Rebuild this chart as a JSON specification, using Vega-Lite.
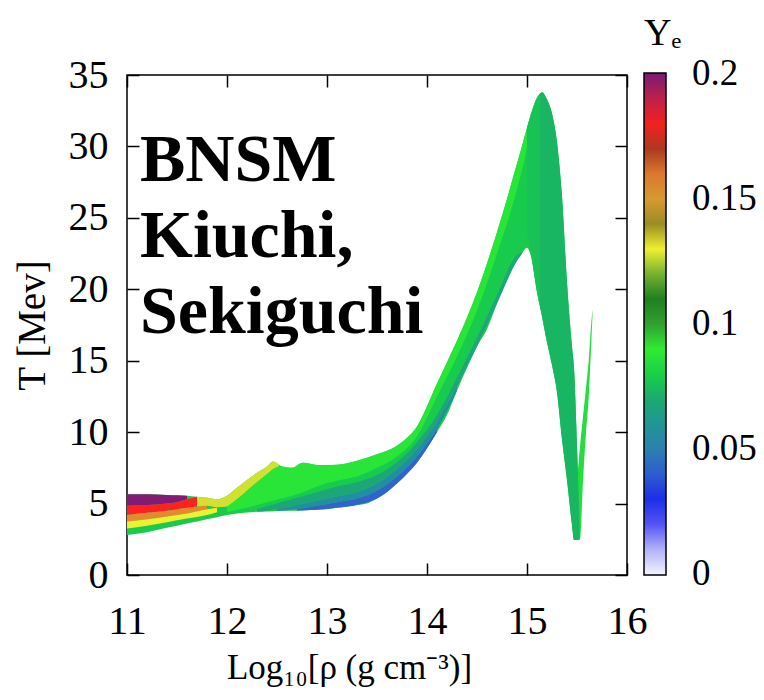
{
  "$schema": "https://vega.github.io/schema/vega-lite/v6.json",
  "autosize": {"type": "none"},
  "padding": {"left": 127, "top": 75, "right": 137, "bottom": 125},
  "width": 500,
  "height": 500,
  "background": "white",
  "config": {
    "font": "Liberation Serif",
    "view": {"stroke": "black", "strokeWidth": 1.5},
    "axis": {"labelColor": "black", "titleColor": "black", "tickColor": "black", "tickWidth": 1.5, "titleFontWeight": "normal", "grid": false, "domain": false, "labelFont": "Liberation Serif", "titleFont": "Liberation Serif"},
    "legend": {"labelFont": "Liberation Serif", "titleFont": "Liberation Serif"}
  },
  "datasets": {
    "base": [
      {"part": "base", "ye": 0.079, "x": 11.0, "hi": 5.65, "lo": 2.8},
      {"part": "base", "ye": 0.079, "x": 11.2, "hi": 5.65, "lo": 3.0},
      {"part": "base", "ye": 0.079, "x": 11.4, "hi": 5.6, "lo": 3.3},
      {"part": "base", "ye": 0.079, "x": 11.6, "hi": 5.55, "lo": 3.6},
      {"part": "base", "ye": 0.079, "x": 11.8, "hi": 5.4, "lo": 3.9},
      {"part": "base", "ye": 0.079, "x": 11.9, "hi": 5.3, "lo": 4.05},
      {"part": "base", "ye": 0.079, "x": 12.0, "hi": 5.55, "lo": 4.2},
      {"part": "base", "ye": 0.079, "x": 12.1, "hi": 6.1, "lo": 4.3},
      {"part": "base", "ye": 0.079, "x": 12.2, "hi": 6.65, "lo": 4.38},
      {"part": "base", "ye": 0.079, "x": 12.3, "hi": 7.15, "lo": 4.42},
      {"part": "base", "ye": 0.079, "x": 12.4, "hi": 7.6, "lo": 4.45},
      {"part": "base", "ye": 0.079, "x": 12.46, "hi": 7.95, "lo": 4.47},
      {"part": "base", "ye": 0.079, "x": 12.55, "hi": 7.6, "lo": 4.5},
      {"part": "base", "ye": 0.079, "x": 12.65, "hi": 7.5, "lo": 4.5},
      {"part": "base", "ye": 0.079, "x": 12.76, "hi": 7.85, "lo": 4.52},
      {"part": "base", "ye": 0.079, "x": 12.9, "hi": 7.7, "lo": 4.56},
      {"part": "base", "ye": 0.079, "x": 13.0, "hi": 7.7, "lo": 4.6},
      {"part": "base", "ye": 0.079, "x": 13.1, "hi": 7.72, "lo": 4.7},
      {"part": "base", "ye": 0.079, "x": 13.2, "hi": 7.8, "lo": 4.8},
      {"part": "base", "ye": 0.079, "x": 13.3, "hi": 8.0, "lo": 4.9},
      {"part": "base", "ye": 0.079, "x": 13.4, "hi": 8.2, "lo": 5.0},
      {"part": "base", "ye": 0.079, "x": 13.5, "hi": 8.45, "lo": 5.35},
      {"part": "base", "ye": 0.079, "x": 13.6, "hi": 8.7, "lo": 5.8},
      {"part": "base", "ye": 0.079, "x": 13.7, "hi": 9.05, "lo": 6.4},
      {"part": "base", "ye": 0.079, "x": 13.8, "hi": 9.6, "lo": 7.1},
      {"part": "base", "ye": 0.079, "x": 13.9, "hi": 10.4, "lo": 7.85},
      {"part": "base", "ye": 0.079, "x": 14.0, "hi": 11.8, "lo": 8.9},
      {"part": "base", "ye": 0.079, "x": 14.1, "hi": 13.4, "lo": 10.0},
      {"part": "base", "ye": 0.079, "x": 14.2, "hi": 14.9, "lo": 11.2},
      {"part": "base", "ye": 0.079, "x": 14.3, "hi": 16.4, "lo": 12.9},
      {"part": "base", "ye": 0.079, "x": 14.4, "hi": 18.0, "lo": 14.5},
      {"part": "base", "ye": 0.079, "x": 14.5, "hi": 19.8, "lo": 16.0},
      {"part": "base", "ye": 0.079, "x": 14.6, "hi": 21.8, "lo": 17.2},
      {"part": "base", "ye": 0.079, "x": 14.7, "hi": 24.0, "lo": 19.0},
      {"part": "base", "ye": 0.079, "x": 14.8, "hi": 26.3, "lo": 20.6},
      {"part": "base", "ye": 0.079, "x": 14.9, "hi": 28.8, "lo": 22.0},
      {"part": "base", "ye": 0.079, "x": 14.95, "hi": 30.0, "lo": 22.5},
      {"part": "base", "ye": 0.079, "x": 15.0, "hi": 31.3, "lo": 22.9},
      {"part": "base", "ye": 0.079, "x": 15.05, "hi": 32.5, "lo": 22.0},
      {"part": "base", "ye": 0.079, "x": 15.1, "hi": 33.4, "lo": 19.8},
      {"part": "base", "ye": 0.079, "x": 15.15, "hi": 33.8, "lo": 18.1},
      {"part": "base", "ye": 0.079, "x": 15.2, "hi": 33.3, "lo": 16.3},
      {"part": "base", "ye": 0.079, "x": 15.25, "hi": 32.3, "lo": 14.7},
      {"part": "base", "ye": 0.079, "x": 15.3, "hi": 30.3, "lo": 12.8},
      {"part": "base", "ye": 0.079, "x": 15.35, "hi": 26.5, "lo": 9.5},
      {"part": "base", "ye": 0.079, "x": 15.4, "hi": 20.5, "lo": 6.65},
      {"part": "base", "ye": 0.079, "x": 15.45, "hi": 16.0, "lo": 3.5},
      {"part": "base", "ye": 0.079, "x": 15.47, "hi": 14.5, "lo": 2.45},
      {"part": "base", "ye": 0.079, "x": 15.5, "hi": 9.0, "lo": 2.45},
      {"part": "base", "ye": 0.079, "x": 15.53, "hi": 2.6, "lo": 2.5},
      {"part": "spike", "ye": 0.084, "x": 15.51, "hi": 7.4, "lo": 2.5},
      {"part": "spike", "ye": 0.084, "x": 15.53, "hi": 9.0, "lo": 2.5},
      {"part": "spike", "ye": 0.084, "x": 15.56, "hi": 11.1, "lo": 6.6},
      {"part": "spike", "ye": 0.084, "x": 15.59, "hi": 13.1, "lo": 10.0},
      {"part": "spike", "ye": 0.084, "x": 15.62, "hi": 15.3, "lo": 12.8},
      {"part": "spike", "ye": 0.084, "x": 15.64, "hi": 17.4, "lo": 15.8},
      {"part": "spike", "ye": 0.084, "x": 15.655, "hi": 18.6, "lo": 18.2}
    ],
    "over": [
      {"part": "purple", "ye": 0.199, "x": 11.0, "hi": 5.65, "lo": 4.85},
      {"part": "purple", "ye": 0.199, "x": 11.2, "hi": 5.65, "lo": 4.9},
      {"part": "purple", "ye": 0.199, "x": 11.4, "hi": 5.6, "lo": 5.0},
      {"part": "purple", "ye": 0.199, "x": 11.5, "hi": 5.58, "lo": 5.1},
      {"part": "purple", "ye": 0.199, "x": 11.6, "hi": 5.55, "lo": 5.3},
      {"part": "red", "ye": 0.182, "x": 11.0, "hi": 4.85, "lo": 4.2},
      {"part": "red", "ye": 0.182, "x": 11.2, "hi": 4.9, "lo": 4.35},
      {"part": "red", "ye": 0.182, "x": 11.4, "hi": 5.0, "lo": 4.5},
      {"part": "red", "ye": 0.182, "x": 11.5, "hi": 5.1, "lo": 4.6},
      {"part": "red", "ye": 0.182, "x": 11.6, "hi": 5.3, "lo": 4.7},
      {"part": "red", "ye": 0.182, "x": 11.7, "hi": 5.47, "lo": 4.8},
      {"part": "orange", "ye": 0.157, "x": 11.0, "hi": 4.2, "lo": 3.75},
      {"part": "orange", "ye": 0.157, "x": 11.2, "hi": 4.35, "lo": 3.9},
      {"part": "orange", "ye": 0.157, "x": 11.4, "hi": 4.5, "lo": 4.1},
      {"part": "orange", "ye": 0.157, "x": 11.6, "hi": 4.7, "lo": 4.3},
      {"part": "orange", "ye": 0.157, "x": 11.7, "hi": 4.8, "lo": 4.45},
      {"part": "orange", "ye": 0.157, "x": 11.8, "hi": 4.85, "lo": 4.6},
      {"part": "yellow", "ye": 0.13, "x": 11.0, "hi": 3.75, "lo": 3.25},
      {"part": "yellow", "ye": 0.13, "x": 11.2, "hi": 3.9, "lo": 3.45},
      {"part": "yellow", "ye": 0.13, "x": 11.4, "hi": 4.1, "lo": 3.7},
      {"part": "yellow", "ye": 0.13, "x": 11.6, "hi": 4.3, "lo": 3.95},
      {"part": "yellow", "ye": 0.13, "x": 11.8, "hi": 4.6, "lo": 4.2},
      {"part": "yellow", "ye": 0.13, "x": 11.9, "hi": 4.7, "lo": 4.4},
      {"part": "ytop", "ye": 0.126, "x": 11.7, "hi": 5.47, "lo": 4.8},
      {"part": "ytop", "ye": 0.126, "x": 11.8, "hi": 5.4, "lo": 4.85},
      {"part": "ytop", "ye": 0.126, "x": 11.9, "hi": 5.3, "lo": 4.75},
      {"part": "ytop", "ye": 0.126, "x": 12.0, "hi": 5.55, "lo": 4.8},
      {"part": "ytop", "ye": 0.126, "x": 12.1, "hi": 6.1, "lo": 5.3},
      {"part": "ytop", "ye": 0.126, "x": 12.2, "hi": 6.65, "lo": 5.9},
      {"part": "ytop", "ye": 0.126, "x": 12.3, "hi": 7.15, "lo": 6.5},
      {"part": "ytop", "ye": 0.126, "x": 12.4, "hi": 7.6, "lo": 7.05},
      {"part": "ytop", "ye": 0.126, "x": 12.46, "hi": 7.95, "lo": 7.4},
      {"part": "ytop", "ye": 0.126, "x": 12.52, "hi": 7.7, "lo": 7.6},
      {"part": "bright", "ye": 0.086, "x": 12.0, "hi": 4.8, "lo": 4.4},
      {"part": "bright", "ye": 0.086, "x": 12.1, "hi": 5.3, "lo": 4.55},
      {"part": "bright", "ye": 0.086, "x": 12.2, "hi": 5.9, "lo": 4.7},
      {"part": "bright", "ye": 0.086, "x": 12.3, "hi": 6.5, "lo": 4.9},
      {"part": "bright", "ye": 0.086, "x": 12.4, "hi": 7.05, "lo": 5.1},
      {"part": "bright", "ye": 0.086, "x": 12.46, "hi": 7.4, "lo": 5.2},
      {"part": "bright", "ye": 0.086, "x": 12.52, "hi": 7.6, "lo": 5.3},
      {"part": "bright", "ye": 0.086, "x": 12.55, "hi": 7.6, "lo": 5.35},
      {"part": "bright", "ye": 0.086, "x": 12.65, "hi": 7.5, "lo": 5.55},
      {"part": "bright", "ye": 0.086, "x": 12.76, "hi": 7.85, "lo": 5.8},
      {"part": "bright", "ye": 0.086, "x": 12.9, "hi": 7.7, "lo": 6.2},
      {"part": "bright", "ye": 0.086, "x": 13.1, "hi": 7.72, "lo": 6.6},
      {"part": "bright", "ye": 0.086, "x": 13.3, "hi": 8.0, "lo": 6.9},
      {"part": "bright", "ye": 0.086, "x": 13.5, "hi": 8.45, "lo": 7.5},
      {"part": "bright", "ye": 0.086, "x": 13.7, "hi": 9.05, "lo": 8.3},
      {"part": "bright", "ye": 0.086, "x": 13.9, "hi": 10.4, "lo": 9.7},
      {"part": "bright", "ye": 0.086, "x": 14.1, "hi": 13.4, "lo": 12.5},
      {"part": "bright", "ye": 0.086, "x": 14.3, "hi": 16.4, "lo": 15.3},
      {"part": "bright", "ye": 0.086, "x": 14.5, "hi": 19.8, "lo": 18.5},
      {"part": "bright", "ye": 0.086, "x": 14.7, "hi": 24.0, "lo": 22.5},
      {"part": "bright", "ye": 0.086, "x": 14.9, "hi": 28.8, "lo": 27.0},
      {"part": "bright", "ye": 0.086, "x": 15.0, "hi": 31.3, "lo": 30.0},
      {"part": "bright", "ye": 0.086, "x": 15.04, "hi": 32.3, "lo": 31.9},
      {"part": "blue", "ye": 0.042, "x": 12.7, "hi": 4.6, "lo": 4.52},
      {"part": "blue", "ye": 0.042, "x": 12.9, "hi": 4.85, "lo": 4.56},
      {"part": "blue", "ye": 0.042, "x": 13.1, "hi": 5.1, "lo": 4.7},
      {"part": "blue", "ye": 0.042, "x": 13.3, "hi": 5.35, "lo": 4.9},
      {"part": "blue", "ye": 0.042, "x": 13.5, "hi": 5.9, "lo": 5.35},
      {"part": "blue", "ye": 0.042, "x": 13.7, "hi": 6.9, "lo": 6.4},
      {"part": "blue", "ye": 0.042, "x": 13.9, "hi": 8.3, "lo": 7.85},
      {"part": "blue", "ye": 0.042, "x": 14.1, "hi": 10.2, "lo": 10.0},
      {"part": "tealblue", "ye": 0.056, "x": 12.5, "hi": 4.6, "lo": 4.48},
      {"part": "tealblue", "ye": 0.056, "x": 12.7, "hi": 4.9, "lo": 4.6},
      {"part": "tealblue", "ye": 0.056, "x": 12.9, "hi": 5.2, "lo": 4.85},
      {"part": "tealblue", "ye": 0.056, "x": 13.1, "hi": 5.5, "lo": 5.1},
      {"part": "tealblue", "ye": 0.056, "x": 13.3, "hi": 5.8, "lo": 5.35},
      {"part": "tealblue", "ye": 0.056, "x": 13.5, "hi": 6.4, "lo": 5.9},
      {"part": "tealblue", "ye": 0.056, "x": 13.7, "hi": 7.4, "lo": 6.9},
      {"part": "tealblue", "ye": 0.056, "x": 13.9, "hi": 8.8, "lo": 8.3},
      {"part": "tealblue", "ye": 0.056, "x": 14.1, "hi": 10.7, "lo": 10.2},
      {"part": "tealblue", "ye": 0.056, "x": 14.3, "hi": 13.2, "lo": 12.9},
      {"part": "teal", "ye": 0.068, "x": 12.3, "hi": 4.6, "lo": 4.42},
      {"part": "teal", "ye": 0.068, "x": 12.5, "hi": 5.0, "lo": 4.6},
      {"part": "teal", "ye": 0.068, "x": 12.7, "hi": 5.4, "lo": 4.9},
      {"part": "teal", "ye": 0.068, "x": 12.9, "hi": 5.8, "lo": 5.2},
      {"part": "teal", "ye": 0.068, "x": 13.1, "hi": 6.2, "lo": 5.5},
      {"part": "teal", "ye": 0.068, "x": 13.3, "hi": 6.5, "lo": 5.8},
      {"part": "teal", "ye": 0.068, "x": 13.5, "hi": 7.0, "lo": 6.4},
      {"part": "teal", "ye": 0.068, "x": 13.7, "hi": 7.9, "lo": 7.4},
      {"part": "teal", "ye": 0.068, "x": 13.9, "hi": 9.3, "lo": 8.8},
      {"part": "teal", "ye": 0.068, "x": 14.1, "hi": 11.2, "lo": 10.7},
      {"part": "teal", "ye": 0.068, "x": 14.3, "hi": 13.8, "lo": 13.2},
      {"part": "teal", "ye": 0.068, "x": 14.5, "hi": 16.6, "lo": 16.0},
      {"part": "teal", "ye": 0.068, "x": 14.7, "hi": 19.6, "lo": 19.0},
      {"part": "teal", "ye": 0.068, "x": 14.9, "hi": 22.4, "lo": 22.0},
      {"part": "teal", "ye": 0.068, "x": 14.95, "hi": 22.6, "lo": 22.5},
      {"part": "midpeak", "ye": 0.077, "x": 15.0, "hi": 31.3, "lo": 24.0},
      {"part": "midpeak", "ye": 0.077, "x": 15.05, "hi": 32.5, "lo": 22.0},
      {"part": "midpeak", "ye": 0.077, "x": 15.1, "hi": 33.4, "lo": 19.8},
      {"part": "midpeak", "ye": 0.077, "x": 15.13, "hi": 33.7, "lo": 18.8},
      {"part": "tealright", "ye": 0.074, "x": 15.13, "hi": 33.7, "lo": 18.8},
      {"part": "tealright", "ye": 0.074, "x": 15.15, "hi": 33.8, "lo": 18.1},
      {"part": "tealright", "ye": 0.074, "x": 15.2, "hi": 33.3, "lo": 16.3},
      {"part": "tealright", "ye": 0.074, "x": 15.25, "hi": 32.3, "lo": 14.7},
      {"part": "tealright", "ye": 0.074, "x": 15.3, "hi": 30.3, "lo": 12.8},
      {"part": "tealright", "ye": 0.074, "x": 15.35, "hi": 26.5, "lo": 9.5},
      {"part": "tealright", "ye": 0.074, "x": 15.4, "hi": 20.5, "lo": 6.65},
      {"part": "tealright", "ye": 0.074, "x": 15.45, "hi": 16.0, "lo": 3.5},
      {"part": "tealright", "ye": 0.074, "x": 15.47, "hi": 14.5, "lo": 2.45},
      {"part": "tealright", "ye": 0.074, "x": 15.5, "hi": 9.0, "lo": 2.45},
      {"part": "tealright", "ye": 0.074, "x": 15.53, "hi": 2.6, "lo": 2.5}
    ]
  },
  "resolve": {"axis": {"x": "independent", "y": "independent"}},
  "layer": [
    {
      "data": {"name": "base"},
      "mark": {"type": "area", "interpolate": "monotone"},
      "encoding": {
        "x": {"field": "x", "type": "quantitative", "scale": {"domain": [11, 16], "nice": false, "zero": false},
          "axis": {"orient": "bottom", "values": [11, 12, 13, 14, 15, 16], "title": "Log₁₀[ρ (g cm⁻³)]", "labelFontSize": 40, "titleFontSize": 35, "tickSize": -12, "labelPadding": 38, "titlePadding": 9, "titleX": 222, "labelFlush": false}},
        "y": {"field": "hi", "type": "quantitative", "scale": {"domain": [0, 35], "nice": false},
          "axis": {"orient": "left", "values": [0, 5, 10, 15, 20, 25, 30, 35], "title": "T [Mev]", "labelFontSize": 40, "titleFontSize": 39, "tickSize": -12, "labelPadding": 31, "titlePadding": 16, "labelFlush": false}},
        "y2": {"field": "lo"},
        "detail": {"field": "part"},
        "color": {"field": "ye", "type": "quantitative",
          "scale": {
            "domain": [-0.0004, 0.01, 0.018, 0.026, 0.034, 0.042, 0.05, 0.057, 0.065, 0.073, 0.08, 0.089, 0.095, 0.1, 0.107, 0.113, 0.118, 0.123, 0.129, 0.136, 0.141, 0.147, 0.152, 0.159, 0.165, 0.171, 0.177, 0.182, 0.187, 0.193, 0.2004],
            "range": ["#f4f4ff", "#b0b0f8", "#6868f4", "#1414f0", "#2448e0", "#3064c8", "#2c80b0", "#2090a0", "#20a080", "#18b068", "#18d048", "#30f030", "#30d030", "#30a030", "#209020", "#207020", "#50a030", "#b0c830", "#f8f830", "#c0c030", "#908020", "#b09030", "#f0a030", "#e08030", "#c05020", "#a83420", "#e02020", "#ff2020", "#e02030", "#a02060", "#7a1a78"],
            "interpolate": "rgb"
          },
          "legend": {"orient": "none", "legendX": 517, "legendY": -60, "direction": "vertical", "title": "Yₑ", "titleFontSize": 38, "titleFontWeight": "normal", "titlePadding": 20, "gradientLength": 502, "gradientThickness": 22, "gradientStrokeColor": "black", "gradientStrokeWidth": 1.5, "values": [0, 0.05, 0.1, 0.15, 0.2], "format": ".2~f", "labelFontSize": 37, "labelOffset": 26, "labelColor": "black", "titleColor": "black", "labelOverlap": false}
        }
      }
    },
    {
      "data": {"name": "over"},
      "mark": {"type": "area", "interpolate": "monotone"},
      "encoding": {
        "x": {"field": "x", "type": "quantitative", "axis": {"orient": "top", "values": [11, 12, 13, 14, 15, 16], "labels": false, "title": null, "tickSize": -12}},
        "y": {"field": "hi", "type": "quantitative", "axis": {"orient": "right", "values": [0, 5, 10, 15, 20, 25, 30, 35], "labels": false, "title": null, "tickSize": -12}},
        "y2": {"field": "lo"},
        "detail": {"field": "part"},
        "color": {"field": "ye", "type": "quantitative"}
      }
    },
    {
      "data": {"values": [{}]},
      "mark": {"type": "text", "text": ["BNSM", "Kiuchi,", "Sekiguchi"], "font": "Liberation Serif", "fontWeight": "bold", "fontSize": 68, "align": "left", "baseline": "alphabetic", "lineHeight": 76, "color": "black"},
      "encoding": {
        "x": {"datum": 11.13, "type": "quantitative", "axis": null},
        "y": {"datum": 27.6, "type": "quantitative", "axis": null}
      }
    }
  ]
}
